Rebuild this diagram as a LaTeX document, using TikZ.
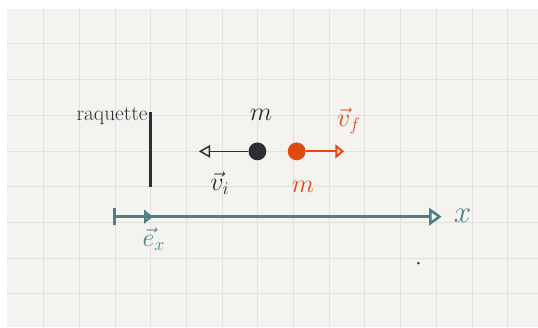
\documentclass[tikz,border=0pt]{standalone}
\usepackage{xcolor}
\usepackage{tikz}
\usetikzlibrary{arrows.meta}
\definecolor{papier}{HTML}{F4F3F0}
\definecolor{grille}{HTML}{E2E1DE}
\definecolor{encre}{HTML}{2B2F33}
\definecolor{orangevif}{HTML}{E04A12}
\definecolor{sarcelle}{HTML}{4C8087}
\tikzset{
  bille/.style={circle, minimum size=0.5cm, inner sep=0pt},
  etiq/.style={font=\fontsize{22}{24}\selectfont, inner sep=1pt},
}

\begin{document}
\begin{tikzpicture}
    \useasboundingbox (-0.21,-0.92) rectangle (14.86,8.24);
    \fill[white] (-0.21,-0.92) rectangle (14.86,8.24);
    \fill[papier] (0,-0.92) rectangle (14.86,8);
    \foreach \x in {1,...,14} {
      \draw[grille, line width=0.7pt] (\x+0.01,-0.92) -- (\x+0.01,8);
    }
    \foreach \y in {0,...,7} {
      \draw[grille, line width=0.7pt] (0,\y+0.01) -- (14.86,\y+0.01);
    }
    % raquette
    \node[font=\fontsize{17}{19}\selectfont, color=encre] (raq) at (2.93,5.0) {raquette};
    \coordinate (rhaut) at (4,5.1);
    \coordinate (rbas) at (4,3);
    \draw[encre, line width=2.6pt] (rhaut) -- (rbas);
    % billes et vitesses
    \node[bille, fill=encre] (bi) at (7,4) {};
    \coordinate (vi) at (5.36,4);
    \draw[encre, line width=1.2pt, -{Triangle[open, length=9pt, width=10pt]}] (bi) -- (vi);
    \node[etiq, color=encre] (mi) at (7.1,5.02) {$m$};
    \node[etiq, color=encre] (lvi) at (5.95,3.12) {$\vec{v}_i$};
    \node[bille, fill=orangevif] (bf) at (8.1,4) {};
    \coordinate (vf) at (9.43,4);
    \draw[orangevif, line width=1.6pt, -{Triangle[open, length=7pt, width=11pt]}] (bf) -- (vf);
    \node[etiq, color=orangevif] (mf) at (8.28,3.0) {$m$};
    \node[etiq, color=orangevif] (lvf) at (9.56,4.85) {$\vec{v}_f$};
    % axe
    \coordinate (o) at (2.96,2.17);
    \coordinate (xfin) at (12.16,2.17);
    \coordinate (ex) at (4.07,2.17);
    \draw[sarcelle, line width=2pt, {Bar[width=14pt]}-{Triangle[open, length=10pt, width=14pt]}] (o) -- (xfin);
    \draw[sarcelle, line width=2pt, -{Triangle[open, length=7pt, width=11pt]}] (o) -- (ex);
    \node[etiq, color=sarcelle] (lex) at (4.1,1.55) {$\vec{e}_x$};
    \node[etiq, font=\fontsize{24}{26}\selectfont, color=sarcelle] (lx) at (12.75,2.2) {$x$};
    \fill[encre] (11.51,0.87) circle (0.04);
  \end{tikzpicture}
\end{document}
